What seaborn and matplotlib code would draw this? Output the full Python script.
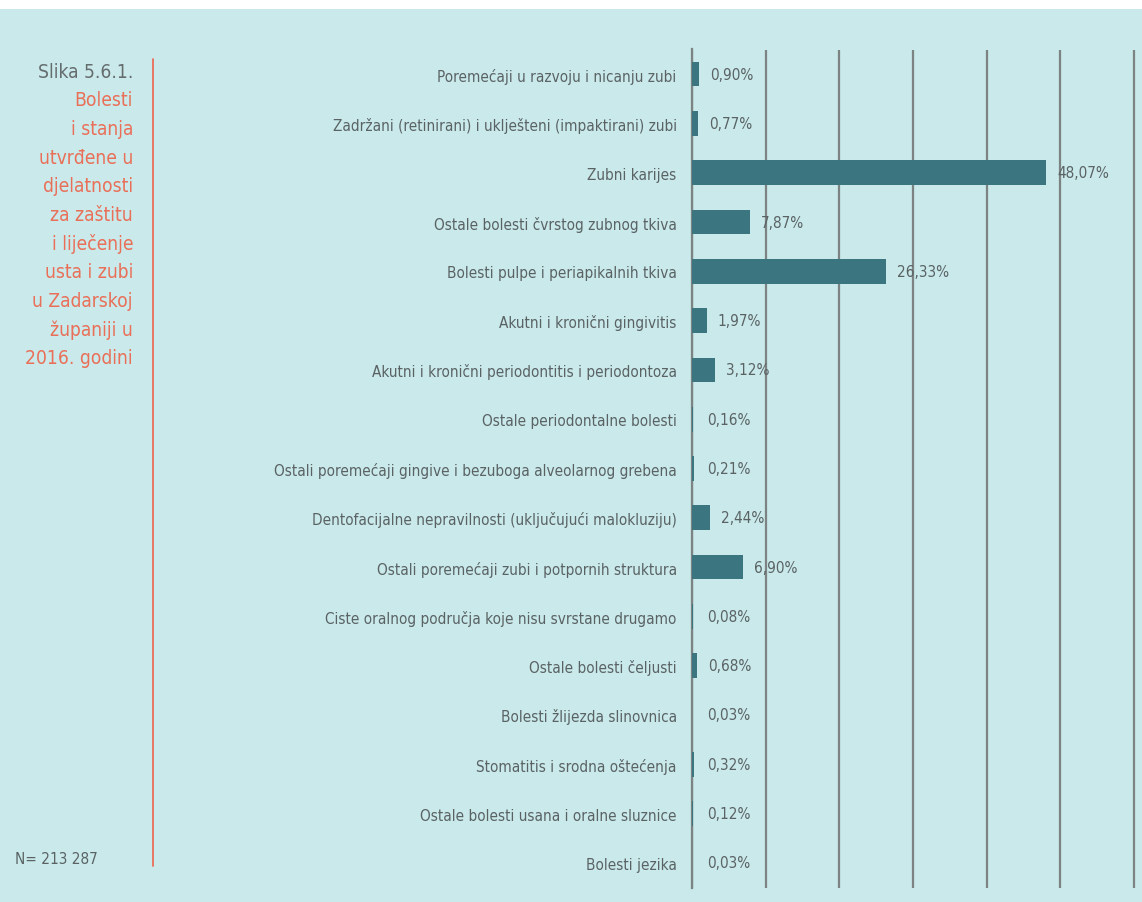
import matplotlib
matplotlib.use('Agg')
import matplotlib.pyplot as plt
from matplotlib import font_manager
import seaborn as sns
import pandas as pd
from matplotlib.patches import Rectangle

# podaci
kategorije = [
    'Poremećaji u razvoju i nicanju zubi',
    'Zadržani (retinirani) i uklješteni (impaktirani) zubi',
    'Zubni karijes',
    'Ostale bolesti čvrstog zubnog tkiva',
    'Bolesti pulpe i periapikalnih tkiva',
    'Akutni i kronični gingivitis',
    'Akutni i kronični periodontitis i periodontoza',
    'Ostale periodontalne bolesti',
    'Ostali poremećaji gingive i bezuboga alveolarnog grebena',
    'Dentofacijalne nepravilnosti (uključujući malokluziju)',
    'Ostali poremećaji zubi i potpornih struktura',
    'Ciste oralnog područja koje nisu svrstane drugamo',
    'Ostale bolesti čeljusti',
    'Bolesti žlijezda slinovnica',
    'Stomatitis i srodna oštećenja',
    'Ostale bolesti usana i oralne sluznice',
    'Bolesti jezika',
]
postotci = [0.90, 0.77, 48.07, 7.87, 26.33, 1.97, 3.12, 0.16, 0.21,
            2.44, 6.90, 0.08, 0.68, 0.03, 0.32, 0.12, 0.03]
naslov_linije = ['Bolesti', 'i stanja', 'utvrđene u', 'djelatnosti', 'za zaštitu',
                 'i liječenje', 'usta i zubi', 'u Zadarskoj', 'županiji u', '2016. godini']
slika_oznaka = 'Slika 5.6.1.'
n_tekst = 'N= 213 287'

pozadina = '#c9e9ea'
boja_stupca = '#3b7680'
siva = '#5a6264'
koralj = '#ea6f58'
mreza = '#7d8283'

sns.set_theme(style='white')

# uski font ako postoji
fontovi = font_manager.fontManager.ttflist
imena = {f.name for f in fontovi}
if 'Liberation Sans Narrow' in imena:
    plt.rcParams['font.family'] = ['Liberation Sans Narrow', 'DejaVu Sans']
    vel = 12.5
elif any(f.name == 'DejaVu Sans' and f.stretch == 'condensed' for f in fontovi):
    plt.rcParams['font.family'] = ['DejaVu Sans']
    plt.rcParams['font.stretch'] = 'condensed'
    vel = 11
else:
    plt.rcParams['font.family'] = ['DejaVu Sans']
    vel = 10.2

df = pd.DataFrame({'kategorija': kategorije, 'postotak': postotci})

fig = plt.figure(figsize=(11.42, 9.03), dpi=100)
fig.patch.set_facecolor(pozadina)
# bijela traka na vrhu
fig.add_artist(Rectangle((0, 1 - 10 / 903), 1, 10 / 903, transform=fig.transFigure,
                         facecolor='white', edgecolor='none', zorder=0))

ax = fig.add_axes([692 / 1142, 1 - 888.5 / 903, (1137 - 692) / 1142, 838 / 903])
ax.set_facecolor(pozadina)

sns.barplot(data=df, x='postotak', y='kategorija', orient='h', color=boja_stupca,
            saturation=1, width=0.5, linewidth=0, ax=ax, zorder=3)

ax.set_xlim(0, 60.4)
ax.set_xticks(range(0, 61, 10))
ax.xaxis.grid(True, color=mreza, linewidth=1.6, zorder=1)
ax.tick_params(axis='x', length=0, labelbottom=False)
ax.tick_params(axis='y', length=0, pad=11, labelsize=vel, labelcolor=siva)
ax.set_xlabel('')
ax.set_ylabel('')
for s in ax.spines.values():
    s.set_visible(False)
ax.spines['left'].set_visible(True)
ax.spines['left'].set_color(mreza)
ax.spines['left'].set_linewidth(1.6)

# oznake vrijednosti
for i, v in enumerate(postotci):
    tekst = f'{v:.2f}'.replace('.', ',') + '%'
    ax.text(max(v + 1.5, 2.0), i, tekst, va='center', ha='left',
            fontsize=vel, color=siva)

# naslov lijevo
fig.text(133 / 1142, 1 - 72 / 903, slika_oznaka, ha='right', va='center',
         fontsize=13.8, color='#656c6e')
for k, red in enumerate(naslov_linije):
    fig.text(133 / 1142, 1 - (72 + 28.7 * (k + 1)) / 903, red, ha='right', va='center',
             fontsize=13.8, color=koralj)

fig.add_artist(plt.Line2D([153 / 1142, 153 / 1142], [1 - 60 / 903, 1 - 867 / 903],
                          transform=fig.transFigure, color=koralj, linewidth=1.3))

fig.text(15 / 1142, 1 - 860 / 903, n_tekst, ha='left', va='center',
         fontsize=vel, color=siva)

plt.savefig('out.png', dpi=100, facecolor=fig.get_facecolor())
plt.close()
